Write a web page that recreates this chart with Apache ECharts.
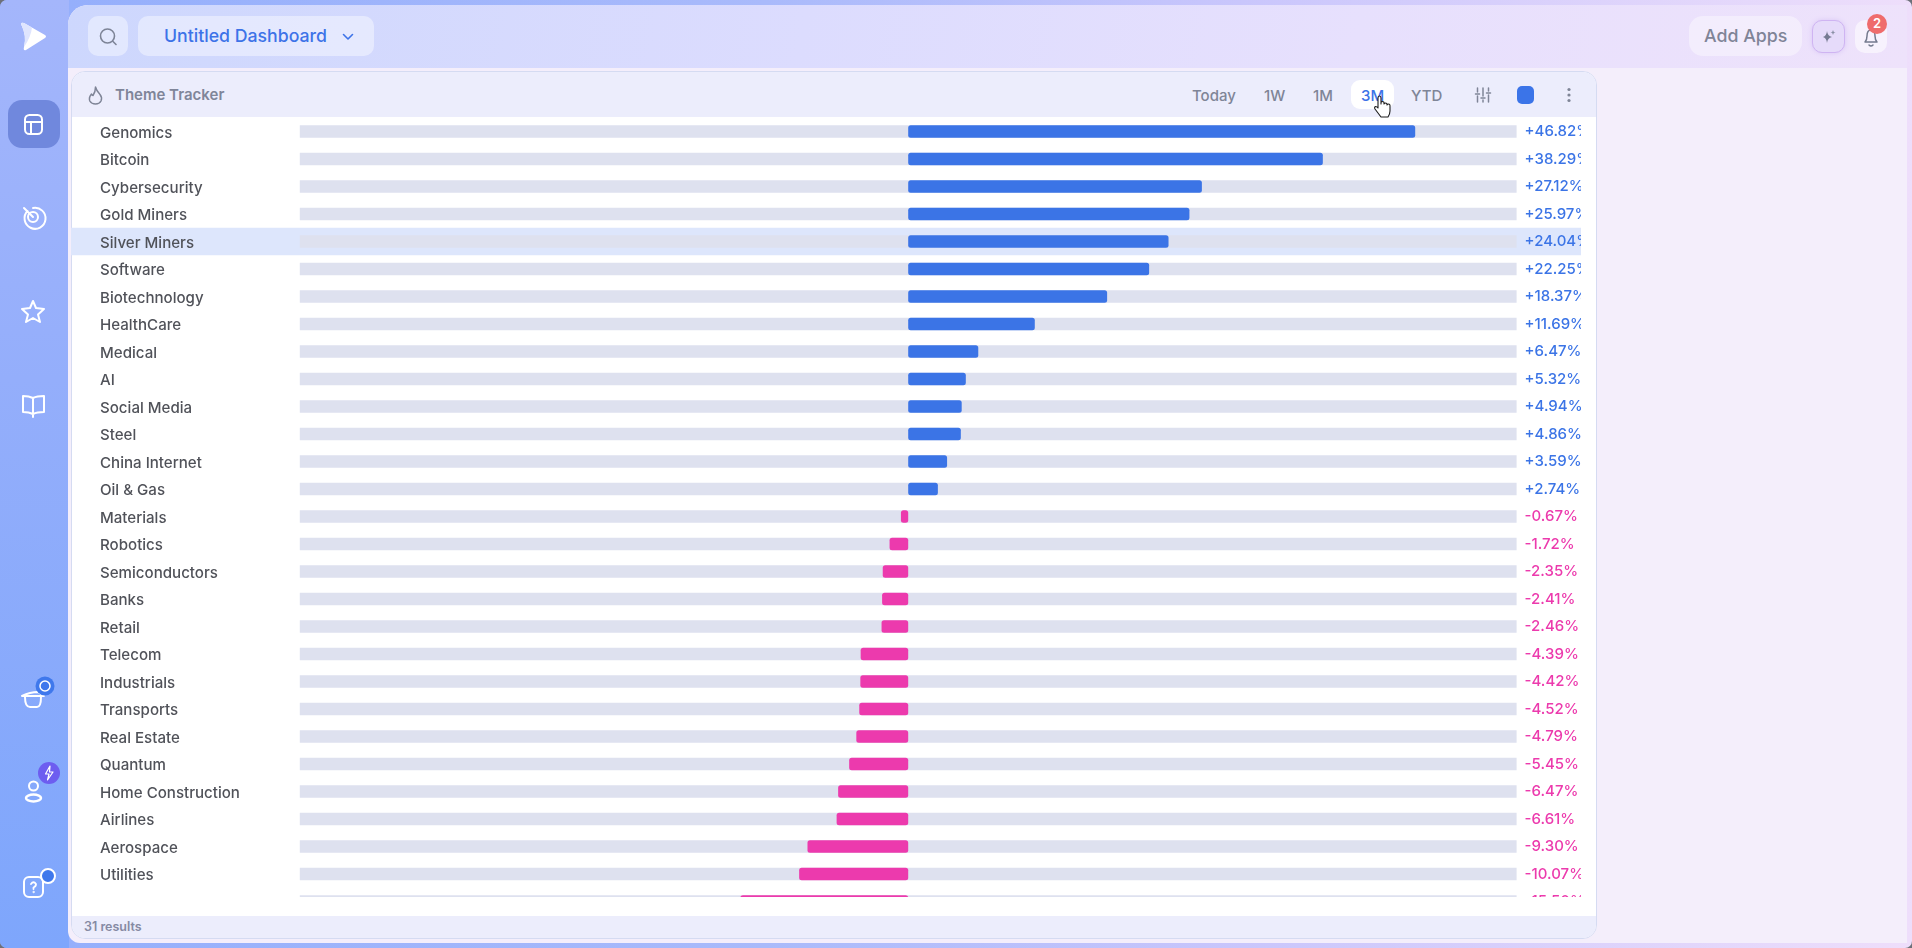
<!DOCTYPE html>
<html>
<head>
<meta charset="utf-8">
<title>Theme Tracker</title>
<script src="https://cdn.jsdelivr.net/npm/echarts@6/dist/echarts.min.js"></script>
<style>
  * { box-sizing: border-box; }
  html, body { margin: 0; height: 100%; background: #6d7079; overflow: hidden; }
  body { font-family: Inter, "Noto Sans", sans-serif; }
  #app { position: absolute; left: 0; top: 0; width: 1912px; height: 948px; border-radius: 7px; overflow: hidden;
    background: linear-gradient(to right, #93aefc 0%, #a9bafb 40%, #c9c6fc 65%, #eedefb 100%); }
  #side { position: absolute; left: 0; top: 0; width: 69px; height: 948px; background: linear-gradient(to bottom, #a4b6fb, #94aefb 40%, #7ea6fc); }
  #main { position: absolute; left: 68px; top: 5px; width: 1839px; height: 938px; border-radius: 20px 0 0 12px; background: #f4eefb; overflow: hidden; }
  #top { position: absolute; left: 0; top: 0; right: 0; height: 63px; background: linear-gradient(100deg, #cdd7fd 0%, #dcdcfe 40%, #e7e0fd 70%, #eee2fb 100%); }
  .abs { position: absolute; }
  .btn { position: absolute; background: rgba(255,255,255,.42); border-radius: 10px; }
  .txt { position: absolute; white-space: nowrap; line-height: 1; }
  #card { position: absolute; left: 71px; top: 71px; width: 1526px; height: 868px; background: #fff; border: 1px solid #d5dbf2; border-radius: 14px; overflow: hidden; }
  #cardHead { position: absolute; left: 0; top: 0; right: 0; height: 45px; background: #ecedfc; }
  #cardFoot { position: absolute; left: 0; bottom: 0; right: 0; height: 22px; background: #ecedfc; }
  #chart { position: absolute; left: 71px; top: 117px; width: 1510px; height: 780px; }
  .range { position: absolute; top: 88px; font-size: 15px; font-weight: 500; color: #7f8597; line-height: 1; white-space: nowrap; }
  svg { position: absolute; overflow: visible; fill: none; }
</style>
</head>
<body>
<div id="app">
  <div id="side"></div>
  <div class="abs" style="left:8px;top:100px;width:52px;height:48px;border-radius:14px;background:#7088dd"></div>

  <!-- sidebar icons -->
  <svg style="left:0;top:0" width="69" height="948" stroke="#fff" stroke-width="2" stroke-linecap="round" stroke-linejoin="round">
    <path d="M21 24 Q21 22 24 23 L45 35 Q47 36.500 45 38 L26 50 Q23 51 24 47 Q27 36 21 24Z" fill="#fff" stroke="none"/>
    <path d="M21 24 Q21 22 24 23 L32 27.500 Q31 37 24 47 Q27 36 21 24Z" fill="#dfe5fe" stroke="none"/>
    <rect x="25" y="115" width="17" height="19" rx="4.500"/><path d="M25 122H42M31 122V134"/>
    <path d="M24 208 L33 217M27.500 211 A10.500 10.500 0 1 0 33 208"/><circle cx="33" cy="217" r="5"/>
    <path d="M33 301 L36 308 L44 309 L38 314.500 L40 322 L33 318 L26 322 L28 314.500 L22 309 L30 308Z"/>
    <path d="M33 398 Q29 396 23 396 V412 Q29 412 33 414 Q37 412 44 412 V396 Q37 396 33 398Z M33 398 V417"/>
    <path d="M22 696 Q30 692 38 692 L44 696 L22 696Z M25 697 Q25 707 30 707 H37 Q41 707 41 697"/>
    <circle cx="33.500" cy="786" r="4.500"/><ellipse cx="33.500" cy="798" rx="7.500" ry="3.500" stroke-width="2.500"/>
    <rect x="24" y="877" width="19" height="20" rx="5"/>
    <path d="M31 884 Q33.500 880.500 36 884 Q36 886.500 33.500 887.500 V889" stroke-width="1.800"/><circle cx="33.500" cy="892" r=".7" stroke-width="1"/>
  </svg>
  <svg style="left:0;top:0" width="69" height="948">
    <circle cx="45" cy="686" r="9.500" fill="#3f78ec"/><circle cx="45" cy="686" r="5" stroke="#fff" stroke-width="1.500"/>
    <circle cx="49" cy="773" r="11" fill="#6d5df0"/><path d="M50 766 L45.500 774 H49 L47.500 780 L53 772 H49.500Z" stroke="#fff" stroke-width="1.200" stroke-linejoin="round"/>
    <circle cx="48" cy="876" r="7" fill="#3f78ec" stroke="#fff" stroke-width="2"/>
  </svg>

  <div id="main"><div id="top"></div></div>

  <!-- top bar -->
  <div class="btn" style="left:88px;top:16px;width:40px;height:40px"></div>
  <svg style="left:88px;top:16px" width="40" height="40" stroke="#7d8497" stroke-width="1.600" stroke-linecap="round">
    <circle cx="19.500" cy="20" r="7"/><path d="M25 25.500 L28 28.500"/>
  </svg>
  <div class="btn" style="left:138px;top:16px;width:236px;height:40px"></div>
  <div class="txt" style="left:164px;top:27px;font-size:17.700px;font-weight:500;color:#3d73e8">Untitled Dashboard</div>
  <svg style="left:342px;top:32px" width="12" height="10" stroke="#3d73e8" stroke-width="1.600" stroke-linecap="round" stroke-linejoin="round"><path d="M1.500 2.500 L6 7 L10.500 2.500"/></svg>

  <div class="btn" style="left:1689px;top:16px;width:113px;height:40px;border-radius:14px;background:rgba(255,255,255,.4)"></div>
  <div class="txt" style="left:1704px;top:27px;font-size:17.800px;font-weight:500;color:#7f8497">Add Apps</div>
  <div class="btn" style="left:1812px;top:20px;width:33px;height:33px;border:1.500px solid #cfb4f2;background:#e6dbfa;box-shadow:0 0 5px #d8c6f5"></div>
  <svg style="left:1812px;top:20px" width="33" height="33">
    <path d="M15 11 Q15.500 16 20 17 Q15.500 18 15 23 Q14.500 18 11 17 Q14.500 16 15 11Z" fill="#767b92"/>
    <path d="M21 10 L21.800 12 L23.500 12.500 L21.800 13 L21 15 L20.200 13 L18.500 12.500 L20.200 12Z" fill="#8a8fa5"/>
  </svg>
  <div class="btn" style="left:1855px;top:20px;width:32px;height:33px;background:rgba(255,255,255,.55)"></div>
  <svg style="left:1855px;top:20px" width="32" height="33" stroke="#747a8e" stroke-width="1.500" stroke-linejoin="round" stroke-linecap="round">
    <path d="M10 22 Q12 20 12 16 Q12 10 16 10 Q20 10 20 16 Q20 20 22 22Z M14 25 Q16 27 18 25"/>
  </svg>
  <div class="abs" style="left:1867px;top:14px;width:20px;height:20px;border-radius:50%;background:#ef6c6c;color:#fff;font-size:13px;font-weight:600;text-align:center;line-height:19px">2</div>

  <!-- card -->
  <div id="card"><div id="cardHead"></div><div id="cardFoot"></div></div>
  <svg style="left:88px;top:86px" width="16" height="18" stroke="#7f8597" stroke-width="1.500" stroke-linejoin="round">
    <path d="M7.500 1 Q8.500 5 12 8.500 Q14.500 11.500 13 15 Q11.500 18 7.500 18 Q3.500 18 1.800 15 Q.5 11.500 3.500 8 Q4 9.500 5 9.500 Q7.500 6 7.500 1Z"/>
  </svg>
  <div class="txt" style="left:115px;top:87px;font-size:15px;font-weight:600;color:#7f8599">Theme Tracker</div>
  <div class="range" style="left:1192px">Today</div>
  <div class="range" style="left:1264px">1W</div>
  <div class="range" style="left:1313px">1M</div>
  <div class="abs" style="left:1351px;top:80px;width:43px;height:29px;border-radius:9px;background:#fff"></div>
  <div class="range" style="left:1361px;color:#3d73e8">3M</div>
  <div class="range" style="left:1411px">YTD</div>
  <svg style="left:1475px;top:87px" width="16" height="16" stroke="#7f8597" stroke-width="1.500" stroke-linecap="round">
    <path d="M2.500 1 V5 M2.500 9 V15 M8 1 V9 M8 13 V15 M13.500 1 V4 M13.500 8 V15 M.5 7 H4.500 M6 11 H10 M11.500 6 H15.500"/>
  </svg>
  <div class="abs" style="left:1517px;top:86px;width:17px;height:18px;border-radius:5px;background:#3b74e8"></div>
  <svg style="left:1565px;top:87px" width="8" height="16"><circle cx="4" cy="2.500" r="1.600" fill="#7f8597"/><circle cx="4" cy="8" r="1.600" fill="#7f8597"/><circle cx="4" cy="13.500" r="1.600" fill="#7f8597"/></svg>

  <div class="txt" style="left:84px;top:921px;font-size:12.500px;font-weight:600;color:#858aa3">31 results</div>

  <div id="chart"></div>

  <!-- pointer sitting on the 3M button -->
  <svg style="left:1373px;top:95px" width="20" height="24" stroke="#1c1c1c" stroke-width="1.100" stroke-linejoin="round">
    <path d="M5 11 V3 Q5 1 6.500 1 Q8 1 8 3 V9 V7.500 Q8 6.500 9.500 6.500 Q11 6.500 11 7.500 V9 Q11 8 12.500 8 Q14 8 14 9 V10 Q14.500 9 15.500 9 Q17 9 17 10.500 V16 Q17 19 15 22 H8 L2 14 Q1 12 2.500 11.500 Q4 11.500 5 13Z" fill="#fff"/>
  </svg>
</div>

<script>
const categories = [
  "Genomics", "Bitcoin", "Cybersecurity", "Gold Miners", "Silver Miners", "Software",
  "Biotechnology", "HealthCare", "Medical", "AI", "Social Media", "Steel", "China Internet",
  "Oil & Gas", "Materials", "Robotics", "Semiconductors", "Banks", "Retail", "Telecom",
  "Industrials", "Transports", "Real Estate", "Quantum", "Home Construction", "Airlines",
  "Aerospace", "Utilities", "",
];
const values = [
  46.82, 38.29, 27.12, 25.97, 24.04, 22.25, 18.37, 11.69, 6.47, 5.32, 4.94, 4.86, 3.59, 2.74,
  -0.67, -1.72, -2.35, -2.41, -2.46, -4.39, -4.42, -4.52, -4.79, -5.45, -6.47, -6.61, -9.3,
  -10.07, -15.5,
];
const hoveredRow = "Silver Miners";

const azul = "#3b74e6";
const rosa = "#ec3aad";
const axisMax = 56.184;
const rowHeight = 27.5;

const valueLabels = values.map((v) => (v > 0 ? "+" : "") + v.toFixed(2) + "%");

const chart = echarts.init(document.getElementById("chart"));

chart.setOption({
  animation: false,
  backgroundColor: "transparent",
  grid: {
    left: 228.8,
    top: 0.65,
    width: 1216.8,
    height: rowHeight * categories.length,
    containLabel: false,
    outerBoundsMode: "none",
  },
  xAxis: { type: "value", min: -axisMax, max: axisMax, show: false },
  yAxis: [
    {
      type: "category",
      inverse: true,
      data: categories,
      axisLine: { show: false },
      axisTick: { show: false },
      axisLabel: {
        margin: 199.8,
        align: "left",
        verticalAlign: "top",
        lineHeight: 4,
        fontFamily: "Inter",
        fontSize: 15.1,
        fontWeight: 500,
        color: "#505259",
      },
    },
    {
      type: "category",
      inverse: true,
      position: "right",
      data: valueLabels,
      axisLine: { show: false },
      axisTick: { show: false },
      axisLabel: {
        margin: 8,
        align: "left",
        verticalAlign: "top",
        lineHeight: 1,
        fontFamily: "Inter",
        fontSize: 15,
        fontWeight: 500,
        color: (v, i) => (values[i] > 0 ? azul : rosa),
      },
    },
  ],
  series: [
    {
      type: "bar",
      data: values.map((v) => ({
        value: v,
        itemStyle: { color: v > 0 ? azul : rosa },
      })),
      barWidth: 12.5,
      showBackground: true,
      backgroundStyle: { color: "#dee1ef" },
      itemStyle: { borderRadius: 2.5 },
      silent: true,
    },
  ],
});

// hover band behind the row, taken from the axis itself
const yFila = chart.convertToPixel({ yAxisIndex: 0 }, hoveredRow);
chart.setOption({
  graphic: [
    {
      type: "rect",
      z: -1,
      silent: true,
      shape: { x: 0, y: yFila - rowHeight / 2, width: 1510, height: rowHeight },
      style: { fill: "#dde6fc" },
    },
  ],
});
</script>
</body>
</html>
